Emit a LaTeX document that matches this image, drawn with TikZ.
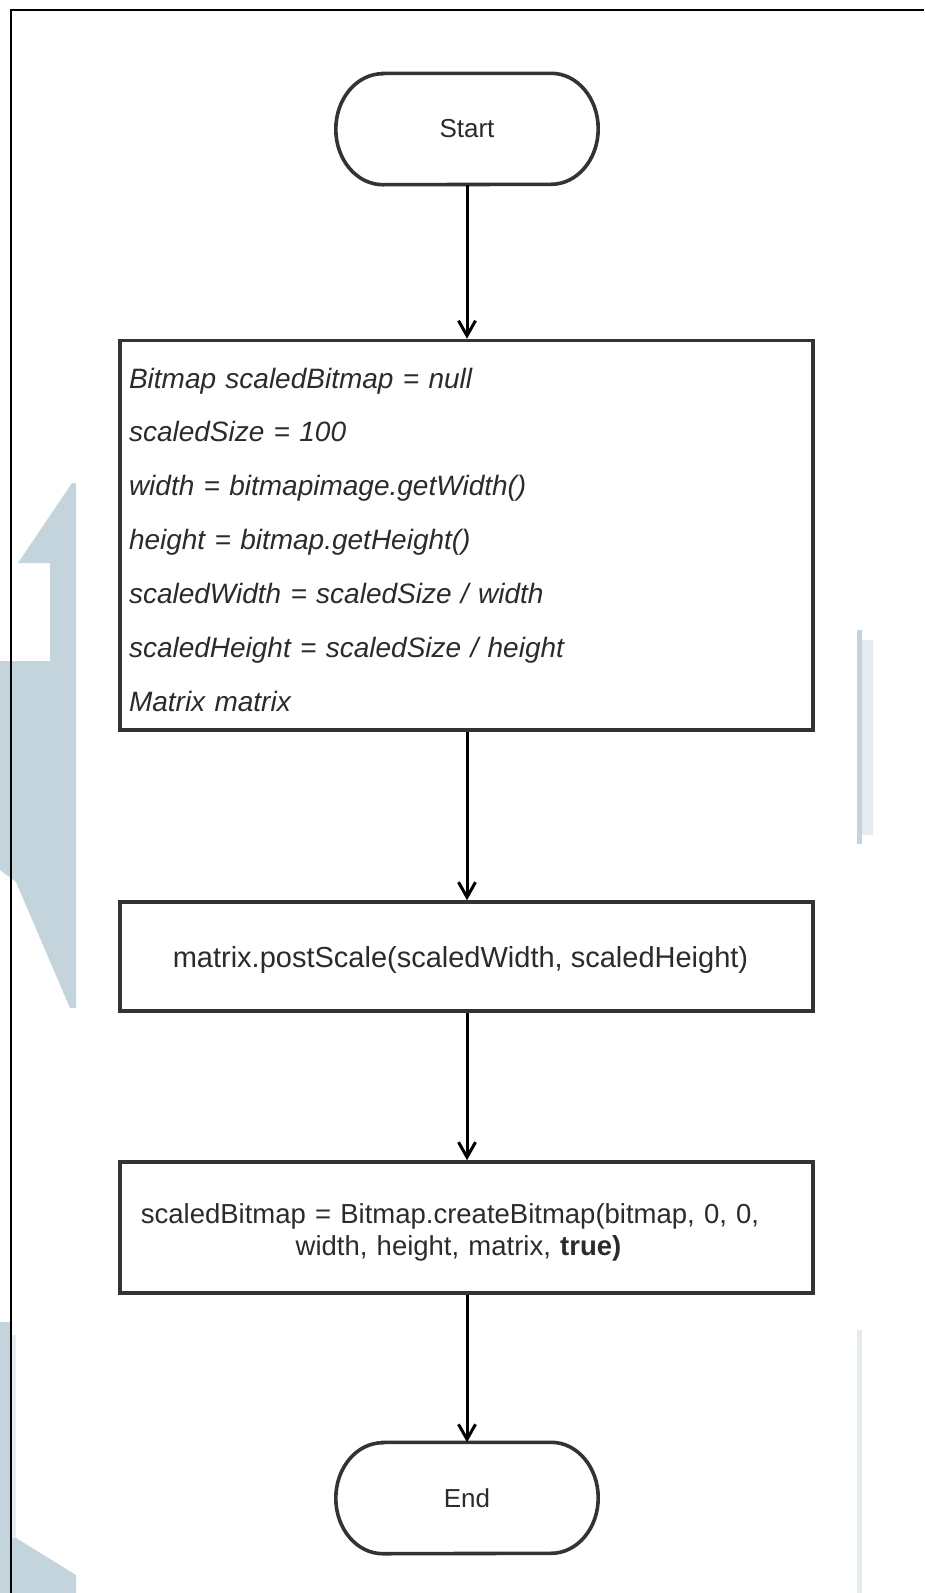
\documentclass[tikz,border=0pt]{standalone}
\usepackage{fontspec}
\setmainfont{Liberation Sans}
\usetikzlibrary{arrows.meta}

\definecolor{wmark}{HTML}{C4D4DC}
\definecolor{wmarklight}{HTML}{E5ECF0}
\definecolor{boxline}{HTML}{333333}
\definecolor{txt}{HTML}{2B2B2B}

\tikzset{
  terminal/.style={draw=none, minimum width=262pt, minimum height=111pt,
    inner sep=0pt, text=txt, font=\fontsize{26}{30}\selectfont},
  stepbox/.style={draw=boxline, line width=3.6pt, minimum width=693pt,
    inner sep=0pt, text=txt, font=\fontsize{28}{32}\selectfont},
  outline/.style={draw=boxline, line width=3.6pt},
  flow/.style={draw=black, line width=3pt,
    -{Straight Barb[length=15pt,width=17pt,line width=3pt]}},
}

% rounded terminator outline around a named node
\newcommand{\termoutline}[1]{%
  \draw[outline] ([xshift=47pt]#1.north west) -- ([xshift=-47pt]#1.north east)
    arc[start angle=90, end angle=-90, x radius=47pt, y radius=55.5pt]
    -- ([xshift=47pt]#1.south west)
    arc[start angle=270, end angle=90, x radius=47pt, y radius=55.5pt]
    -- cycle;}

\begin{document}
\begin{tikzpicture}[x=1pt, y=1pt]
\useasboundingbox (0,0) rectangle (924,-1593);
\fill[white] (0,0) rectangle (924,-1593);

% faint background mark
\fill[wmark] (72,-483) -- (76,-483) -- (76,-1008) -- (70,-1008) -- (16,-882)
  -- (0,-870) -- (0,-661) -- (50,-661) -- (50,-563) -- (18,-563) -- cycle;
\fill[wmark] (0,-1322) -- (10,-1322) -- (10,-1538) -- (16,-1538)
  -- (76,-1575) -- (76,-1593) -- (0,-1593) -- cycle;
\fill[wmarklight] (10,-1335) rectangle (16,-1538);
\fill[wmark] (857,-630) rectangle (862,-844);
\fill[wmarklight] (862,-640) rectangle (873,-835);
\fill[wmarklight] (857,-1330) rectangle (862,-1593);

% page frame
\draw[black, line width=2pt] (11,-1593) -- (11,-10) -- (924,-10);

% flow steps
\node[terminal] (start) at (467,-129) {Start};
\termoutline{start}

\node[stepbox, minimum height=389.5pt, text width=675pt, inner xsep=9pt,
  align=left, font=\itshape\fontsize{28}{53.9}\selectfont,
  text height=29pt, text depth=323.4pt]
  (init) at (466.5,-535.25)
  {Bitmap scaledBitmap = null\\
   scaledSize = 100\\
   width = bitmapimage.getWidth()\\
   height = bitmap.getHeight()\\
   scaledWidth = scaledSize / width\\
   scaledHeight = scaledSize / height\\
   Matrix matrix};

\node[stepbox, minimum height=109pt, font=\fontsize{29}{33}\selectfont,
  text height=29pt, text depth=6.2pt]
  (scale) at (466.5,-956.5)
  {matrix.postScale(scaledWidth, scaledHeight)\rule{12pt}{0pt}};

\node[stepbox, minimum height=131pt, text width=690pt, align=center,
  font=\fontsize{27.5}{31.5}\selectfont, text height=29.5pt, text depth=37.5pt]
  (create) at (466.5,-1227.5)
  {scaledBitmap = Bitmap.createBitmap(bitmap, 0, 0,\rule{33pt}{0pt}\\
   width, height, matrix, \textbf{true)}\rule{16pt}{0pt}};

\node[terminal] (end) at (467,-1498) {End};
\termoutline{end}

% connectors
\draw[flow] (start.south) -- (start.south |- init.north);
\draw[flow] (init.south -| start) -- (scale.north -| start);
\draw[flow] (scale.south -| start) -- (create.north -| start);
\draw[flow] (create.south -| start) -- (end.north);
\end{tikzpicture}
\end{document}
